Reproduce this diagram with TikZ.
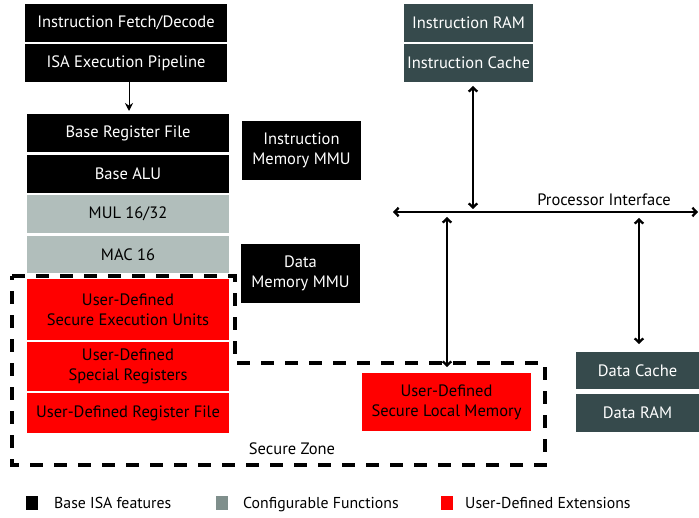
\documentclass[tikz,border=0pt]{standalone}
\usepackage{fontspec}
\setmainfont{PT Sans}
\usetikzlibrary{arrows.meta}
\definecolor{cfg}{HTML}{B1BEBB}
\definecolor{cfgleg}{HTML}{7F8F8C}
\definecolor{udred}{HTML}{FF0000}
\definecolor{slate}{HTML}{364A4C}
\tikzset{
  blk/.style={inner sep=0pt, align=center, font=\fontsize{16.5bp}{20bp}\selectfont},
  basebox/.style={blk, fill=black, text=white},
  cfgbox/.style={blk, fill=cfg, text=black},
  udbox/.style={blk, fill=udred, text=black},
  membox/.style={blk, fill=slate, text=white},
  bigarrow/.style={line width=2.3bp, {Straight Barb[length=4bp,width=8.5bp]}-{Straight Barb[length=4bp,width=8.5bp]}},
  zone/.style={line width=3.1bp, dash pattern=on 13bp off 11bp},
  legsq/.style={inner sep=0pt, minimum width=12bp, minimum height=14bp},
  legtxt/.style={inner sep=0pt, anchor=base west, font=\fontsize{15.8bp}{18bp}\selectfont},
}
\begin{document}
\begin{tikzpicture}[x=1bp,y=-1bp]
\useasboundingbox (0,0) rectangle (699,518);
% left column
\node[basebox, minimum width=202bp, minimum height=38bp] (fetch) at (126,23) {Instruction Fetch/Decode};
\node[basebox, minimum width=202bp, minimum height=38bp] (pipe) at (126,63) {ISA Execution Pipeline};
\node[basebox, minimum width=202bp, minimum height=38bp] (breg) at (128,133) {Base Register File};
\node[basebox, minimum width=202bp, minimum height=38bp] (alu) at (128,174) {Base ALU};
\node[cfgbox, minimum width=202bp, minimum height=38bp] (mul) at (128,214) {MUL 16/32};
\node[cfgbox, minimum width=202bp, minimum height=37bp] (mac) at (128,254.5) {MAC 16};
\node[udbox, minimum width=202bp, minimum height=61bp] (ud1) at (128,309.5) {User-Defined\\Secure Execution Units};
\node[udbox, minimum width=202bp, minimum height=49bp] (ud2) at (128,366.5) {User-Defined\\Special Registers};
\node[udbox, minimum width=202bp, minimum height=40bp] (ud3) at (128,413) {User-Defined Register File};
% MMUs
\node[basebox, minimum width=119bp, minimum height=59bp] (imm) at (301.5,150.5) {Instruction\\Memory MMU};
\node[basebox, minimum width=119bp, minimum height=59bp] (dmm) at (300.5,273.5) {Data\\Memory MMU};
% memories
\node[membox, minimum width=129bp, minimum height=38bp] (iram) at (468.5,23) {Instruction RAM};
\node[membox, minimum width=129bp, minimum height=38bp] (icache) at (468.5,63) {Instruction Cache};
\node[membox, minimum width=123bp, minimum height=37bp] (dcache) at (637.5,370.5) {Data Cache};
\node[membox, minimum width=123bp, minimum height=38bp] (dram) at (637.5,413) {Data RAM};
\node[udbox, minimum width=169bp, minimum height=58bp] (slm) at (446.5,402) {User-Defined\\Secure Local Memory};
% secure zone
\draw[zone] (12,276) -- (235,276) -- (235,363) -- (545,363) -- (545,465) -- (12,465) -- cycle;
\node[blk] (sz) at (292,449) {Secure Zone};
% bus
\coordinate (busl) at (393,212);
\coordinate (busr) at (698,212);
\draw[bigarrow] (busl) -- (busr);
\node[blk, anchor=south] (pi) at (604,206) {Processor Interface};
\coordinate (ict) at (473,86);
\coordinate (icb) at (473,209);
\draw[bigarrow] (ict) -- (icb);
\coordinate (slt) at (447,217);
\coordinate (slb) at (447,367);
\draw[bigarrow] (slt) -- (slb);
\coordinate (dct) at (639,218);
\coordinate (dcb) at (639,344);
\draw[bigarrow] (dct) -- (dcb);
% pipeline arrow
\coordinate (pa) at (129,82);
\coordinate (pb) at (129,111);
\draw[line width=0.9bp, -{Stealth[length=8bp,width=8bp]}] (pa) -- (pb);
% legend
\node[legsq, fill=black] (l1) at (32,503) {};
\node[legtxt] (t1) at (54,508.5) {Base ISA features};
\node[legsq, fill=cfgleg] (l2) at (221.5,503) {};
\node[legtxt] (t2) at (243,508.5) {Configurable Functions};
\node[legsq, fill=udred] (l3) at (446.5,503) {};
\node[legtxt] (t3) at (465,508.5) {User-Defined Extensions};
\end{tikzpicture}
\end{document}
